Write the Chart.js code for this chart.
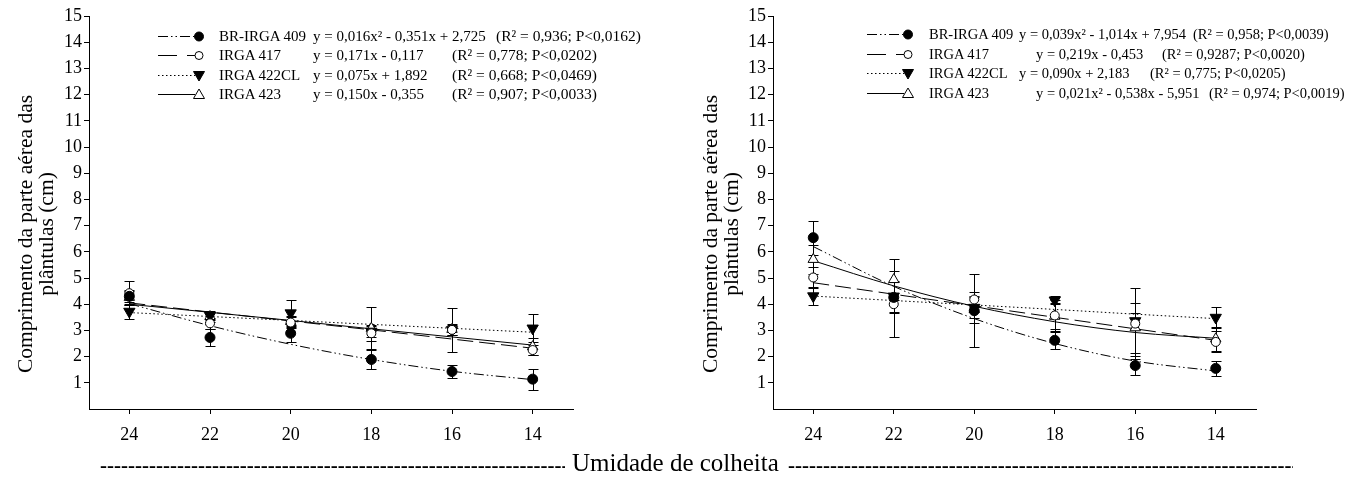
<!DOCTYPE html>
<html><head><meta charset="utf-8">
<script src="https://cdn.jsdelivr.net/npm/chart.js@4.4.0/dist/chart.umd.min.js"></script>
<style>
body{margin:0;background:#fff;}
#wrap{position:relative;width:1350px;height:482px;overflow:hidden;font-family:"Liberation Serif",serif;color:#000;background:#fff;}
#wrap canvas{position:absolute;top:0;}
.lg{position:absolute;line-height:18px;white-space:nowrap;transform-origin:0 50%;}
.ytitle{position:absolute;width:340px;height:42px;font-size:21.5px;line-height:21px;text-align:center;white-space:nowrap;transform:rotate(-90deg);}
.bottom{position:absolute;white-space:nowrap;}
.dash{position:absolute;overflow:hidden;white-space:nowrap;font-size:21px;font-weight:bold;line-height:24px;letter-spacing:0;}
svg{position:absolute;overflow:visible;}
</style></head>
<body><div id="wrap">
<canvas id="c1" width="680" height="450" style="left:0px"></canvas>
<canvas id="c2" width="666" height="450" style="left:684px"></canvas>
</div>
<script>
// ---------- data ----------
const X_VALUES = [24, 22, 20, 18, 16, 14];
const X_TICKS = [24, 22, 20, 18, 16, 14];
const Y_TICKS = [1, 2, 3, 4, 5, 6, 7, 8, 9, 10, 11, 12, 13, 14, 15];
const SERIES = ['BR-IRGA 409', 'IRGA 417', 'IRGA 422CL', 'IRGA 423'];
const Y_TITLE = ['Comprimento da parte aérea das', 'plântulas (cm)'];
const X_TITLE = 'Umidade de colheita';

// left panel
const L_BR409 = [4.30, 2.73, 2.89, 1.89, 1.43, 1.14];
const L_BR409_ERR = [0.20, 0.31, 0.33, 0.35, 0.25, 0.40];
const L_BR409_FIT = [4.02, 3.18, 2.47, 1.89, 1.44, 1.12];
const L_417 = [4.42, 3.27, 3.30, 2.89, 3.02, 2.25];
const L_417_ERR = [0.45, 0.20, 0.20, 0.30, 0.20, 0.20];
const L_417_FIT = [4.05, 3.70, 3.36, 3.02, 2.67, 2.32];
const L_422 = [3.72, 3.56, 3.66, 2.96, 3.02, 3.08];
const L_422_ERR = [0.28, 0.15, 0.50, 0.20, 0.85, 0.53];
const L_422_FIT = [3.68, 3.53, 3.38, 3.23, 3.08, 2.93];
const L_423 = [4.26, 3.53, 3.34, 3.08, 3.04, 2.38];
const L_423_ERR = [0.30, 0.20, 0.20, 0.80, 0.20, 0.32];
const L_423_FIT = [4.00, 3.69, 3.38, 3.06, 2.75, 2.44];
const L_EQUATIONS = ['y = 0,016x² - 0,351x + 2,725', 'y = 0,171x - 0,117', 'y = 0,075x + 1,892', 'y = 0,150x - 0,355'];
const L_STATS = ['(R² = 0,936; P<0,0162)', '(R² = 0,778; P<0,0202)', '(R² = 0,668; P<0,0469)', '(R² = 0,907; P<0,0033)'];

// right panel
const R_BR409 = [6.54, 4.26, 3.75, 2.62, 1.66, 1.55];
const R_BR409_ERR = [0.65, 0.60, 1.40, 0.32, 0.35, 0.30];
const R_BR409_FIT = [6.20, 4.68, 3.45, 2.50, 1.83, 1.45];
const R_417 = [5.02, 4.00, 4.18, 3.57, 3.26, 2.56];
const R_417_ERR = [0.40, 1.25, 0.28, 0.60, 1.34, 0.40];
const R_417_FIT = [4.82, 4.38, 3.94, 3.50, 3.06, 2.62];
const R_422 = [4.31, 4.30, 3.87, 4.15, 3.36, 3.49];
const R_422_ERR = [0.33, 0.60, 0.40, 0.15, 0.30, 0.41];
const R_422_FIT = [4.31, 4.14, 3.97, 3.80, 3.62, 3.45];
const R_423 = [5.71, 4.94, 3.80, 3.54, 3.10, 2.68];
const R_423_ERR = [0.55, 0.77, 0.50, 0.50, 0.95, 0.45];
const R_423_FIT = [5.66, 4.70, 3.92, 3.33, 2.92, 2.70];
const R_EQUATIONS = ['y = 0,039x² - 1,014x + 7,954', 'y = 0,219x - 0,453', 'y = 0,090x + 2,183', 'y = 0,021x² - 0,538x - 5,951'];
const R_STATS = ['(R² = 0,958; P<0,0039)', '(R² = 0,9287; P<0,0020)', '(R² = 0,775; P<0,0205)', '(R² = 0,974; P<0,0019)'];

// ---------- styles ----------
const FONT = 'Liberation Serif';
const STYLES = [
  {dash: [10, 3, 1.5, 3, 1.5, 3], point: 'circle', rot: 0, r: 5, fill: '#000'},
  {dash: [16, 6], point: 'circle', rot: 0, r: 4.5, fill: '#fff'},
  {dash: [1.5, 2.5], point: 'triangle', rot: 180, r: 6.5, fill: '#000'},
  {dash: [], point: 'triangle', rot: 0, r: 6, fill: '#fff'}
];

const toXY = arr => X_VALUES.map((x, i) => ({x: x, y: arr[i]}));

const errorBars = {
  id: 'errorBars',
  beforeDatasetsDraw(chart) {
    const ctx = chart.ctx, xs = chart.scales.x, ys = chart.scales.y;
    ctx.save();
    ctx.strokeStyle = '#000';
    ctx.lineWidth = 1;
    chart.data.datasets.forEach(ds => {
      if (!ds.err) return;
      ds.data.forEach((p, i) => {
        const px = Math.round(xs.getPixelForValue(p.x)) + 0.5;
        const y1 = Math.round(ys.getPixelForValue(p.y - ds.err[i])) + 0.5;
        const y2 = Math.round(ys.getPixelForValue(p.y + ds.err[i])) + 0.5;
        ctx.beginPath();
        ctx.moveTo(px, y1); ctx.lineTo(px, y2);
        ctx.moveTo(px - 5, y1); ctx.lineTo(px + 5, y1);
        ctx.moveTo(px - 5, y2); ctx.lineTo(px + 5, y2);
        ctx.stroke();
      });
    });
    ctx.restore();
  }
};

function makeChart(id, groups, padRight) {
  const datasets = [];
  groups.forEach((g, k) => {
    const st = STYLES[k];
    datasets.push({
      label: SERIES[k] + ' fit', data: toXY(g.fit), borderColor: '#000', borderWidth: 1,
      borderDash: st.dash, pointRadius: 0, cubicInterpolationMode: 'monotone', fill: false, order: 2
    });
    datasets.push({
      label: SERIES[k], data: toXY(g.mean), err: g.err, showLine: false,
      pointStyle: st.point, pointRotation: st.rot, pointRadius: st.r,
      pointBackgroundColor: st.fill, pointBorderColor: '#000', pointBorderWidth: 1, order: 1
    });
  });
  return new Chart(document.getElementById(id), {
    type: 'line',
    data: {datasets},
    options: {
      responsive: false, animation: false,
      layout: {padding: {top: 16, right: padRight, left: 0, bottom: 0}, autoPadding: false},
      plugins: {legend: {display: false}, tooltip: {enabled: false}},
      scales: {
        x: {
          type: 'linear', reverse: true, min: 13, max: 25,
          afterBuildTicks: s => { s.ticks = X_TICKS.map(v => ({value: v})); },
          afterFit: s => { s.height = 41; },
          grid: {drawOnChartArea: false, drawTicks: true, tickLength: 5, color: '#000', lineWidth: 1},
          border: {display: true, color: '#000', width: 1},
          ticks: {color: '#000', font: {family: FONT, size: 18}, padding: 10, maxRotation: 0}
        },
        y: {
          type: 'linear', min: 0, max: 15,
          afterBuildTicks: s => { s.ticks = Y_TICKS.map(v => ({value: v})); },
          afterFit: s => { s.width = 89; },
          grid: {drawOnChartArea: false, drawTicks: true, tickLength: 5, color: '#000', lineWidth: 1},
          border: {display: true, color: '#000', width: 1},
          ticks: {color: '#000', font: {family: FONT, size: 18}, padding: 2}
        }
      }
    },
    plugins: [errorBars]
  });
}

makeChart('c1', [
  {mean: L_BR409, err: L_BR409_ERR, fit: L_BR409_FIT},
  {mean: L_417, err: L_417_ERR, fit: L_417_FIT},
  {mean: L_422, err: L_422_ERR, fit: L_422_FIT},
  {mean: L_423, err: L_423_ERR, fit: L_423_FIT}
], 107);
makeChart('c2', [
  {mean: R_BR409, err: R_BR409_ERR, fit: R_BR409_FIT},
  {mean: R_417, err: R_417_ERR, fit: R_417_FIT},
  {mean: R_422, err: R_422_ERR, fit: R_422_FIT},
  {mean: R_423, err: R_423_ERR, fit: R_423_FIT}
], 94);

// ---------- text helpers ----------
const wrap = document.getElementById('wrap');
function addText(txt, x, yc, size) {
  const d = document.createElement('div');
  d.className = 'lg';
  d.style.fontSize = size + 'px';
  d.textContent = txt;
  d.style.left = x + 'px';
  d.style.top = (yc - 9) + 'px';
  wrap.appendChild(d);
  return d;
}
const NS = 'http://www.w3.org/2000/svg';
function legendSample(x0, yc, k) {
  const st = STYLES[k];
  const svg = document.createElementNS(NS, 'svg');
  svg.setAttribute('width', 50); svg.setAttribute('height', 16);
  svg.style.left = x0 + 'px'; svg.style.top = (yc - 8) + 'px';
  const ln = document.createElementNS(NS, 'line');
  ln.setAttribute('x1', 0); ln.setAttribute('x2', 37);
  ln.setAttribute('y1', 8.5); ln.setAttribute('y2', 8.5);
  ln.setAttribute('stroke', '#000'); ln.setAttribute('stroke-width', 1);
  const legendDash = [[10, 3, 1.5, 3, 1.5, 3], [19, 10], [1.5, 2.5], []][k];
  if (legendDash.length) ln.setAttribute('stroke-dasharray', legendDash.join(','));
  svg.appendChild(ln);
  let m;
  const cx = 41, cy = 8.5;
  if (st.point === 'circle') {
    m = document.createElementNS(NS, 'circle');
    m.setAttribute('cx', cx); m.setAttribute('cy', cy); m.setAttribute('r', k === 0 ? 4.5 : 4);
  } else {
    m = document.createElementNS(NS, 'polygon');
    const h = 5.5;
    const pts = st.rot === 180
      ? [[cx - h, cy - 4], [cx + h, cy - 4], [cx, cy + 5.5]]
      : [[cx, cy - 5.5], [cx + h, cy + 4], [cx - h, cy + 4]];
    m.setAttribute('points', pts.map(p => p.join(',')).join(' '));
  }
  m.setAttribute('fill', st.fill); m.setAttribute('stroke', '#000'); m.setAttribute('stroke-width', 1);
  svg.appendChild(m);
  wrap.appendChild(svg);
}

// left legend
const L_ROWS = [35.5, 55, 74.5, 94];
const L_EQ_X = [313, 313, 313, 313];
const L_ST_X = [496, 452, 452, 452];
SERIES.forEach((s, k) => {
  legendSample(158, L_ROWS[k], k);
  addText(s, 219, L_ROWS[k], 15);
  addText(L_EQUATIONS[k], L_EQ_X[k], L_ROWS[k], 15);
  addText(L_STATS[k], L_ST_X[k], L_ROWS[k], 15.5);
});
// right legend
const R_ROWS = [34, 53.5, 73, 93];
const R_EQ_X = [1019, 1036, 1019, 1036];
const R_ST_X = [1193, 1162, 1150, 1209];
SERIES.forEach((s, k) => {
  legendSample(867, R_ROWS[k], k);
  addText(s, 929, R_ROWS[k], 14.5);
  addText(R_EQUATIONS[k], R_EQ_X[k], R_ROWS[k], 14.5);
  addText(R_STATS[k], R_ST_X[k], R_ROWS[k], 14.5);
});

// y titles
function yTitle(cx, cy) {
  const d = document.createElement('div');
  d.className = 'ytitle';
  Y_TITLE.forEach(line => {
    const s = document.createElement('div');
    s.textContent = line;
    d.appendChild(s);
  });
  d.style.left = (cx - 170) + 'px';
  d.style.top = (cy - 21) + 'px';
  wrap.appendChild(d);
}
yTitle(36, 234);
yTitle(721, 234);

// ---------- bottom title ----------
const t = document.createElement('div');
t.className = 'bottom';
t.style.left = '572px'; t.style.top = '449px';
t.style.fontSize = '25px'; t.style.lineHeight = '28px';
t.textContent = X_TITLE;
wrap.appendChild(t);
function dashes(x, w) {
  const d = document.createElement('div');
  d.className = 'dash';
  d.style.left = x + 'px'; d.style.top = '453px'; d.style.width = w + 'px';
  d.textContent = '-'.repeat(120);
  wrap.appendChild(d);
}
dashes(100, 465);
dashes(788, 505);
</script>
</body></html>
